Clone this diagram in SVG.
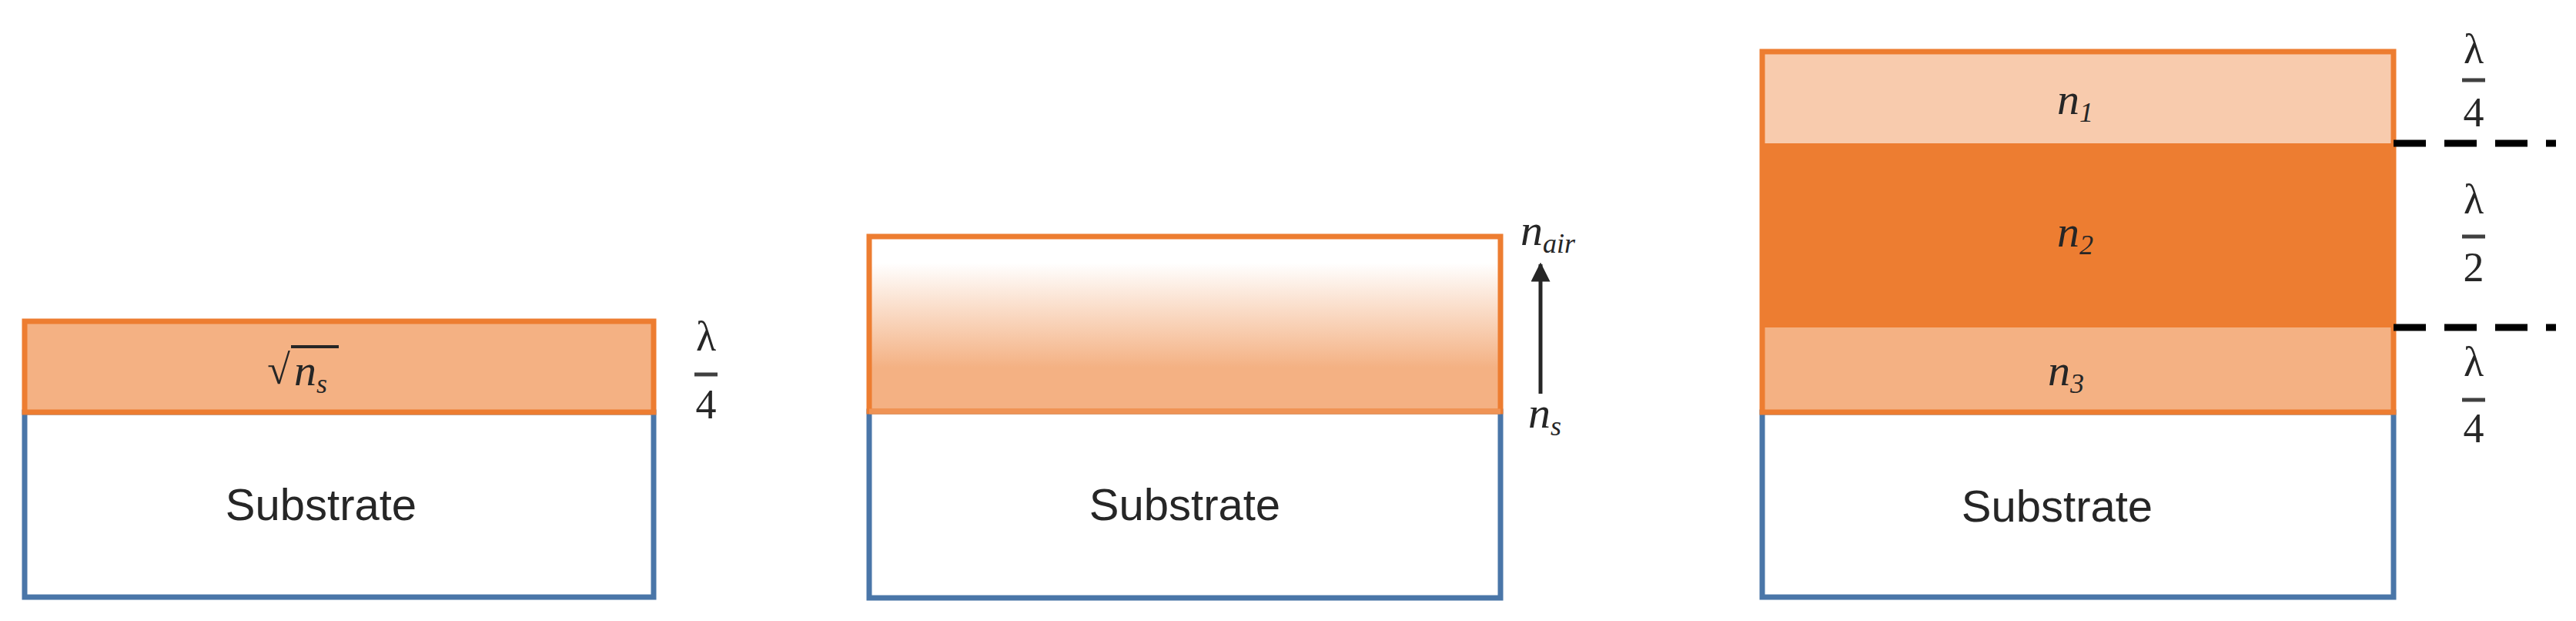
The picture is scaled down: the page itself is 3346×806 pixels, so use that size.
<svg xmlns="http://www.w3.org/2000/svg" width="3346" height="806" viewBox="0 0 3346 806">
<style>
.sub{fill:#fff;stroke:#4A76A8;stroke-width:7}
.lay{stroke:#ED7D31;stroke-width:7}
.t{font-family:"Liberation Sans",Arial,sans-serif;font-size:58px;fill:#262626;text-anchor:middle}
.n{font-family:"Liberation Serif","Times New Roman",serif;font-style:italic;font-size:58px;fill:#262626}
.s{font-size:36px}
.m{font-family:"Liberation Serif","Times New Roman",serif;font-size:54px;fill:#262626;text-anchor:middle}
.bar{stroke:#404040;stroke-width:5}
.dash{stroke:#000;stroke-width:9;stroke-dasharray:42 24}
</style>
<defs>
<linearGradient id="g" x1="0" y1="0" x2="0" y2="1">
<stop offset="0" stop-color="#fff"/>
<stop offset="0.15" stop-color="#fff"/>
<stop offset="0.75" stop-color="#F4B183"/>
<stop offset="1" stop-color="#F4B183"/>
</linearGradient>
<marker id="ah" viewBox="0 0 10 10" refX="9" refY="5" markerWidth="5" markerHeight="5" orient="auto"><path d="M0,0L10,5L0,10z" fill="#262626"/></marker>
</defs>
<g id="stack1">
<rect class="sub" x="32" y="535" width="817" height="240"/>
<rect class="lay" x="32" y="417" width="817" height="118" fill="#F4B183"/>
<text x="362" y="498" class="m">√</text>
<line x1="378" y1="450" x2="440" y2="450" stroke="#262626" stroke-width="4"/>
<text x="382" y="500" class="n">n<tspan class="s" dy="10">s</tspan></text>
<text x="417" y="675" class="t">Substrate</text>
<text x="917" y="455" class="m">λ</text>
<line class="bar" x1="902" y1="486" x2="932" y2="486"/>
<text x="917" y="543" class="m">4</text>
</g>
<g id="stack2">
<rect class="sub" x="1129" y="534" width="820" height="242"/>
<rect class="lay" x="1129" y="307" width="820" height="227" fill="url(#g)" stroke="#F4A470"/>
<line x1="1129" y1="534" x2="1949" y2="534" stroke="#EF9355" stroke-width="7"/>
<text x="1539" y="675" class="t">Substrate</text>
<text x="1975" y="318" class="n">n<tspan class="s" dy="10">air</tspan></text>
<text x="1985" y="555" class="n">n<tspan class="s" dy="10">s</tspan></text>
</g>
<g id="stack3">
<rect class="sub" x="2289" y="535" width="820" height="240"/>
<rect x="2289" y="425" width="820" height="110" fill="#F4B183"/>
<rect x="2289" y="186" width="820" height="239" fill="#ED7D31"/>
<rect x="2289" y="67" width="820" height="119" fill="#F8CBAD"/>
<rect class="lay" x="2289" y="67" width="820" height="468" fill="none" stroke="#EF9355"/>
<text x="2672" y="148" class="n">n<tspan class="s" dy="10">1</tspan></text>
<text x="2672" y="320" class="n">n<tspan class="s" dy="10">2</tspan></text>
<text x="2660" y="500" class="n">n<tspan class="s" dy="10">3</tspan></text>
<text x="2672" y="677" class="t">Substrate</text>
<text x="3213" y="82" class="m">λ</text>
<line class="bar" x1="3198" y1="104" x2="3228" y2="104"/>
<text x="3213" y="164" class="m">4</text>
<text x="3213" y="277" class="m">λ</text>
<line class="bar" x1="3198" y1="307" x2="3228" y2="307"/>
<text x="3213" y="365" class="m">2</text>
<text x="3213" y="488" class="m">λ</text>
<line class="bar" x1="3198" y1="519" x2="3228" y2="519"/>
<text x="3213" y="574" class="m">4</text>
</g>
<g id="connectors">
<line x1="2001" y1="511" x2="2001" y2="343" stroke="#262626" stroke-width="5" marker-end="url(#ah)"/>
<line class="dash" x1="3109" y1="186" x2="3320" y2="186"/>
<line class="dash" x1="3109" y1="425" x2="3320" y2="425"/>
</g>
</svg>
